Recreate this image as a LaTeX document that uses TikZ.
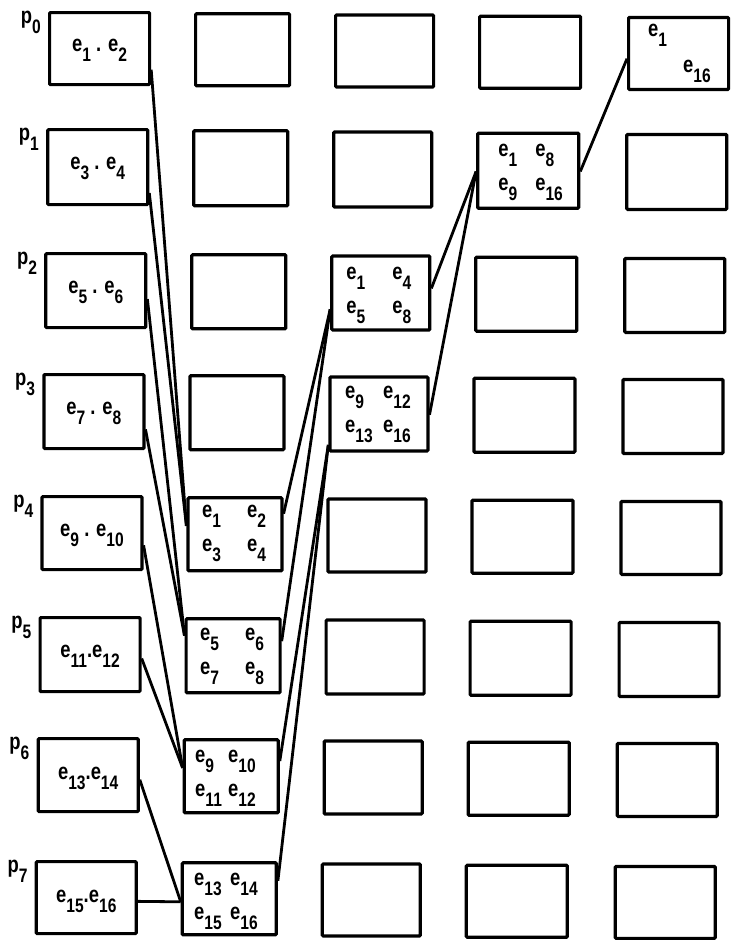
\documentclass[tikz,border=0pt]{standalone}
\usepackage{fontspec}
\setmainfont[FakeStretch=0.8]{Liberation Sans}
\usetikzlibrary{calc}
\newcommand\sbs[1]{\raisebox{-10pt}{\fontsize{19.5}{19.5}\selectfont #1}}
\newcommand\ee[1]{e\sbs{#1}}
\newcommand\quadtxt[5]{\begin{tabular}[t]{@{}p{#1}@{}l@{}}#2&#3\\#4&#5\end{tabular}}
\begin{document}
\begin{tikzpicture}[x=1pt,y=-1pt,
  box/.style={draw, line width=3.2pt, rounded corners=1pt, inner sep=0pt, anchor=north west},
  wire/.style={line width=2.8pt},
  txt/.style={inner sep=0pt, font=\fontsize{23}{34}\selectfont\bfseries},
  lbl/.style={txt, anchor=base},
  plbl/.style={txt, anchor=base east},
  quad/.style={txt, anchor=base west}]
\useasboundingbox (0,0) rectangle (731,940);
\fill[white] (0,0) rectangle (731,940);
\def\Lx{{48,194,334,478,627}}
\def\Wd{{100,94,98,101,100}}
\def\Ty{{11,128,252,373,495,616,737,860}}
\def\Ht{{72,75,74,74,73,74,73,72}}
\foreach \r in {0,...,7}{
  \foreach \c in {0,...,4}{
    \pgfmathsetmacro\blx{\Lx[\c]-1.9*\r}
    \pgfmathsetmacro\bty{\Ty[\r]+1.2*\c}
    \pgfmathsetmacro\bwd{\Wd[\c]}
    \pgfmathsetmacro\bht{\Ht[\r]}
    \node[box, minimum width=\bwd pt, minimum height=\bht pt] (b\r\c) at (\blx,\bty) {};
  }
}
% processor labels
\foreach \r in {0,...,7}{
  \node[plbl] (p\r) at ($(b\r0.north west)+(-7,12)$) {p\sbs{\r}};
}
% first column contents
\node[lbl] (t0) at ($(b00.north)+(0,40)$) {\ee{1} . \ee{2}};
\node[lbl] (t1) at ($(b10.north)+(0,41)$) {\ee{3} . \ee{4}};
\node[lbl] (t2) at ($(b20.north)+(0,41)$) {\ee{5} . \ee{6}};
\node[lbl] (t3) at ($(b30.north)+(0,41)$) {\ee{7} . \ee{8}};
\node[lbl] (t4) at ($(b40.north)+(0,41)$) {\ee{9} . \ee{10}};
\node[lbl] (t5) at ($(b50.north)+(0,41)$) {\ee{11}.\ee{12}};
\node[lbl] (t6) at ($(b60.north)+(0,42)$) {\ee{13}.\ee{14}};
\node[lbl] (t7) at ($(b70.north)+(0,42)$) {\ee{15}.\ee{16}};
% merged contents
\node[quad] (q41) at ($(b41.north west)+(15.6,21)$) {\quadtxt{45pt}{\ee{1}}{\ee{2}}{\ee{3}}{\ee{4}}};
\node[quad] (q51) at ($(b51.north west)+(15.5,23)$) {\quadtxt{45pt}{\ee{5}}{\ee{6}}{\ee{7}}{\ee{8}}};
\node[quad] (q61) at ($(b61.north west)+(12.4,24.5)$) {\quadtxt{33pt}{\ee{9}}{\ee{10}}{\ee{11}}{\ee{12}}};
\node[quad] (q71) at ($(b71.north west)+(13.3,24)$) {\quadtxt{36pt}{\ee{13}}{\ee{14}}{\ee{15}}{\ee{16}}};
\node[quad] (q22) at ($(b22.north west)+(16,25)$) {\quadtxt{46pt}{\ee{1}}{\ee{4}}{\ee{5}}{\ee{8}}};
\node[quad] (q32) at ($(b32.north west)+(16.7,23)$) {\quadtxt{38pt}{\ee{9}}{\ee{12}}{\ee{13}}{\ee{16}}};
\node[quad] (q13) at ($(b13.north west)+(22,25)$) {\quadtxt{37pt}{\ee{1}}{\ee{8}}{\ee{9}}{\ee{16}}};
\node[quad] (q04) at ($(b04.north west)+(21,21)$) {\begin{tabular}[t]{@{}p{35pt}@{}l@{}}\ee{1}&\\[2pt]&\ee{16}\end{tabular}};
% connectors: column 1 -> column 2
\draw[wire] ($(b00.north east)!0.78!(b00.south east)$) -- ($(b41.north west)!0.39!(b41.south west)$);
\draw[wire] ($(b10.north east)!0.83!(b10.south east)$) -- ($(b41.north west)!0.39!(b41.south west)$);
\draw[wire] ($(b20.north east)!0.61!(b20.south east)$) -- ($(b51.north west)!0.24!(b51.south west)$);
\draw[wire] ($(b30.north east)!0.73!(b30.south east)$) -- ($(b51.north west)!0.24!(b51.south west)$);
\draw[wire] ($(b40.north east)!0.66!(b40.south east)$) -- ($(b61.north west)!0.39!(b61.south west)$);
\draw[wire] ($(b50.north east)!0.55!(b50.south east)$) -- ($(b61.north west)!0.39!(b61.south west)$);
\draw[wire] ($(b60.north east)!0.56!(b60.south east)$) -- ($(b71.north west)!0.54!(b71.south west)$);
\draw[wire] ($(b70.north east)!0.55!(b70.south east)$) -- ($(b71.north west)!0.54!(b71.south west)$);
% column 2 -> column 3
\draw[wire] ($(b41.north east)!0.23!(b41.south east)$) -- ($(b22.north west)!0.71!(b22.south west)$);
\draw[wire] ($(b51.north east)!0.31!(b51.south east)$) -- ($(b22.north west)!0.71!(b22.south west)$);
\draw[wire] ($(b61.north east)!0.30!(b61.south east)$) -- ($(b32.north west)!0.90!(b32.south west)$);
\draw[wire] ($(b71.north east)!0.26!(b71.south east)$) -- ($(b32.north west)!0.90!(b32.south west)$);
% column 3 -> column 4
\draw[wire] ($(b22.north east)!0.44!(b22.south east)$) -- ($(b13.north west)!0.51!(b13.south west)$);
\draw[wire] ($(b32.north east)!0.51!(b32.south east)$) -- ($(b13.north west)!0.51!(b13.south west)$);
% column 4 -> column 5
\draw[wire] ($(b13.north east)!0.51!(b13.south east)$) -- ($(b04.north west)!0.57!(b04.south west)$);
\end{tikzpicture}
\end{document}
